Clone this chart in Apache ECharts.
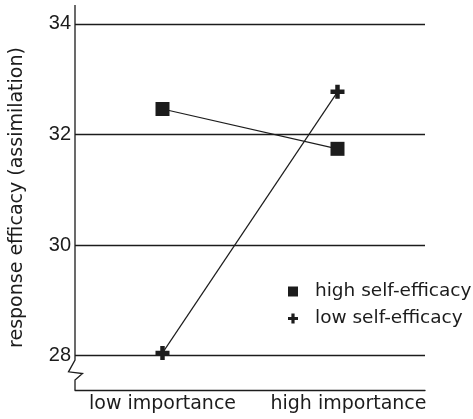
<!DOCTYPE html>
<html>
<head>
<meta charset="utf-8">
<script src="https://cdn.jsdelivr.net/npm/echarts@6/dist/echarts.min.js"></script>
<style>
  html, body { margin: 0; padding: 0; background: #fff; }
  #chart { width: 473px; height: 419px; }
</style>
</head>
<body>
<div id="chart"></div>
<script>
// Interaction of issue importance and self-efficacy on response efficacy
const categories = ['low importance', 'high importance'];
const highSelfEfficacy = [32.46, 31.74];
const lowSelfEfficacy = [28.05, 32.77];
const yTicks = [28, 30, 32, 34];
const yMin = 27.38;
const yMax = 34.34;

const INK = '#1c1c1c';
const TEXT_FONT = '"DejaVu Sans", sans-serif';
const NUM_FONT = '"Liberation Sans", Arial, sans-serif';
const PLUS = 'path://M3.4,0H6.6V3.4H10V6.6H6.6V10H3.4V6.6H0V3.4H3.4Z';

const chart = echarts.init(document.getElementById('chart'), null, { renderer: 'canvas' });

chart.setOption({
  animation: false,
  backgroundColor: '#fff',
  grid: { left: 75, right: 48, top: 5, bottom: 29, containLabel: false },
  xAxis: {
    type: 'category',
    data: categories.map((c, i) => i === 1
      ? { value: c, textStyle: { padding: [0, 0, 0, 22] } }
      : { value: c }),
    boundaryGap: true,
    axisLine: { show: true, lineStyle: { color: INK, width: 1.3 } },
    axisTick: { show: false },
    axisLabel: {
      interval: 0,
      hideOverlap: false,
      color: INK,
      fontFamily: TEXT_FONT,
      fontSize: 19,
      margin: 5
    },
    splitLine: { show: false }
  },
  yAxis: {
    type: 'value',
    min: yMin,
    max: yMax,
    name: 'response efficacy (assimilation)',
    nameLocation: 'middle',
    nameGap: 48,
    nameTextStyle: { color: INK, fontFamily: TEXT_FONT, fontSize: 19 },
    axisLine: { show: false },
    axisTick: { show: false },
    splitLine: { show: false },
    axisLabel: {
      customValues: yTicks,
      color: INK,
      fontFamily: NUM_FONT,
      fontSize: 20,
      margin: 4
    }
  },
  legend: {
    orient: 'vertical',
    left: 283,
    top: 277,
    itemWidth: 10,
    itemHeight: 10,
    itemGap: 8,
    textStyle: { color: INK, fontFamily: TEXT_FONT, fontSize: 18.5, lineHeight: 19, padding: [0, 0, 0, 12] },
    data: [
      { name: 'high self-efficacy', icon: 'rect' },
      { name: 'low self-efficacy', icon: PLUS }
    ]
  },
  series: [
    {
      // horizontal reference lines at each labelled value
      name: 'grid',
      type: 'line',
      data: [],
      silent: true,
      z: 1,
      markLine: {
        silent: true,
        symbol: ['none', 'none'],
        label: { show: false },
        lineStyle: { color: INK, width: 1.3, type: 'solid' },
        data: yTicks.map(v => ({ yAxis: v }))
      }
    },
    {
      name: 'high self-efficacy',
      type: 'line',
      data: highSelfEfficacy,
      z: 3,
      symbol: 'rect',
      symbolSize: 14,
      itemStyle: { color: INK },
      lineStyle: { color: INK, width: 1.2 }
    },
    {
      name: 'low self-efficacy',
      type: 'line',
      data: lowSelfEfficacy,
      z: 3,
      symbol: PLUS,
      symbolSize: 14,
      itemStyle: { color: INK },
      lineStyle: { color: INK, width: 1.2 }
    }
  ]
});

// Vertical axis with a break symbol between the lowest tick and the floor
function drawAxisWithBreak() {
  const x0 = chart.convertToPixel({ xAxisIndex: 0 }, 0);
  const x1 = chart.convertToPixel({ xAxisIndex: 0 }, 1);
  const x = x0 - (x1 - x0) / 2;
  const yTop = chart.convertToPixel({ yAxisIndex: 0 }, yMax);
  const yBottom = chart.convertToPixel({ yAxisIndex: 0 }, yMin);
  const y28 = chart.convertToPixel({ yAxisIndex: 0 }, yTicks[0]);
  const gap = yBottom - y28;
  chart.setOption({
    graphic: [{
      type: 'polyline',
      z: 10,
      silent: true,
      shape: {
        points: [
          [x, yTop],
          [x, y28 + gap * 0.13],
          [x - 6.5, y28 + gap * 0.47],
          [x + 7.5, y28 + gap * 0.52],
          [x, y28 + gap * 0.71],
          [x, yBottom]
        ]
      },
      style: { stroke: INK, lineWidth: 1.3, fill: null }
    }]
  });
}
drawAxisWithBreak();
</script>
</body>
</html>
